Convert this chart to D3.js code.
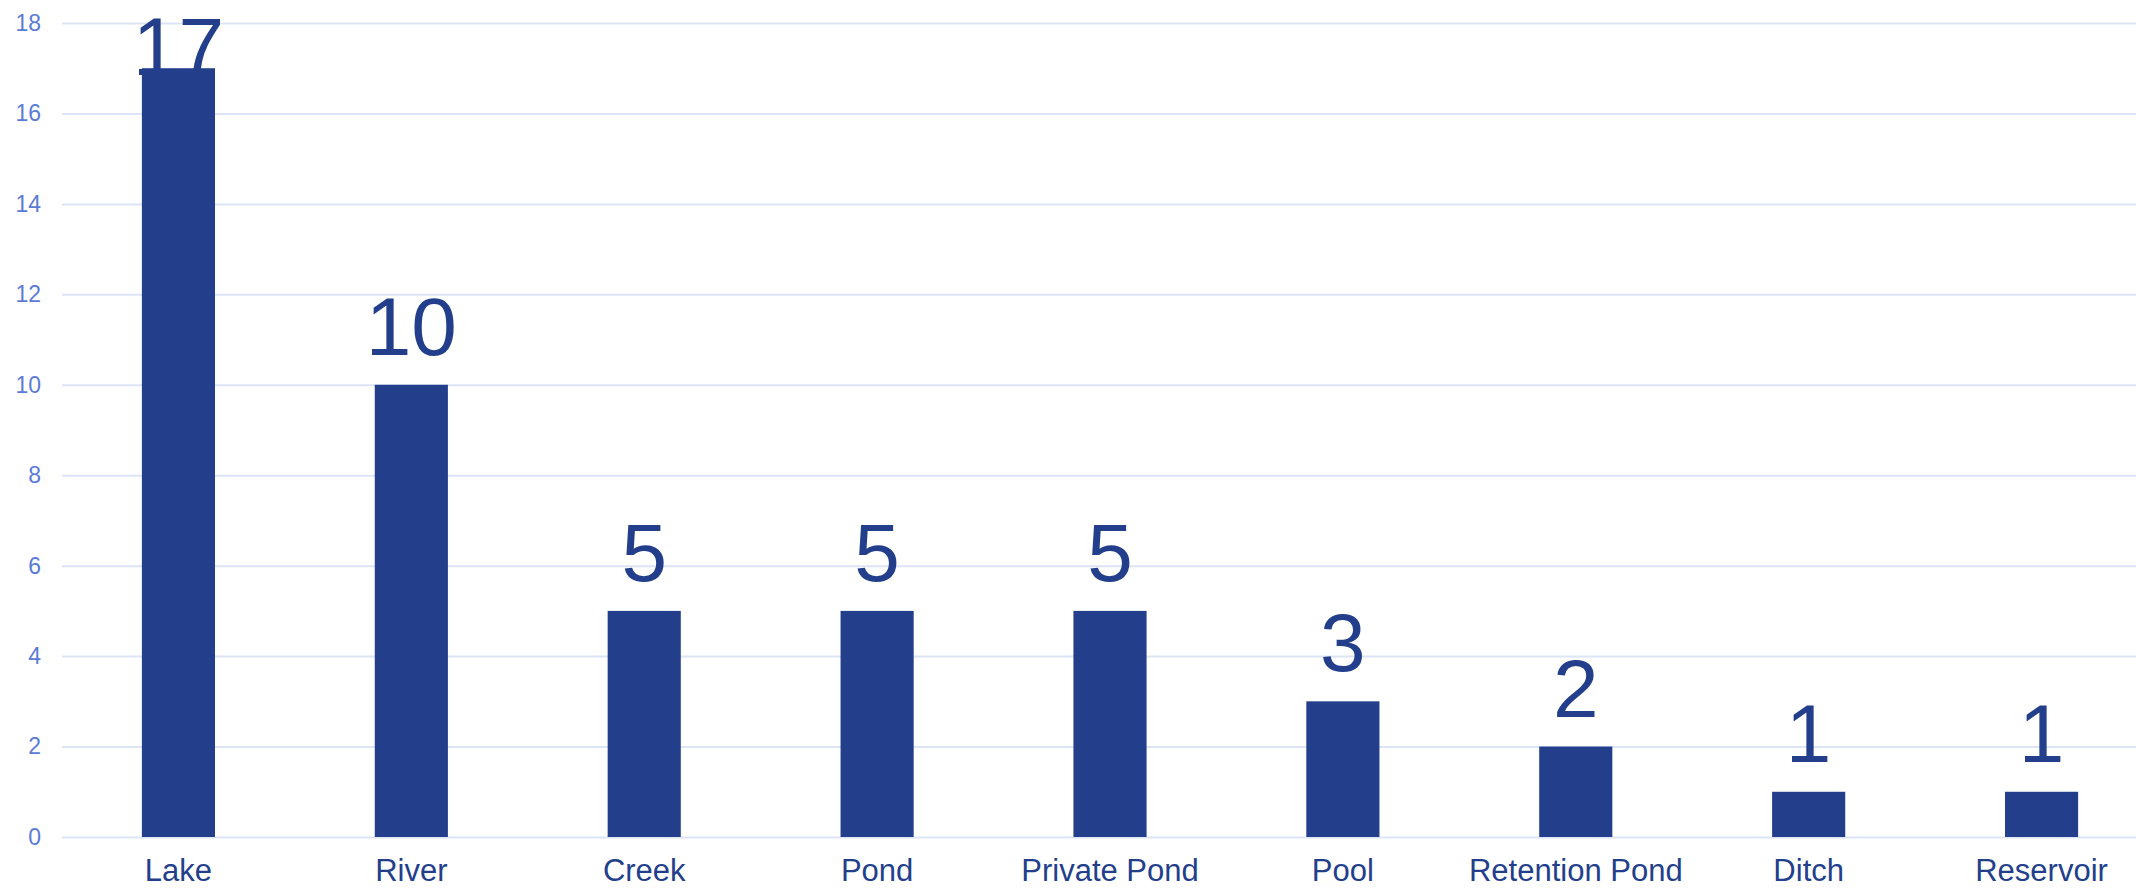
<!DOCTYPE html>
<html>
<head>
<meta charset="utf-8">
<script src="https://cdn.jsdelivr.net/npm/d3@7"></script>
<style>
  html, body { margin: 0; padding: 0; background: #ffffff; }
  svg { display: block; font-family: "Liberation Sans", Arial, sans-serif; }
</style>
</head>
<body>
<svg id="chart" width="2136" height="889"></svg>
<script>
// Water body types and their counts
const categories = ["Lake", "River", "Creek", "Pond", "Private Pond", "Pool", "Retention Pond", "Ditch", "Reservoir"];
const counts = [17, 10, 5, 5, 5, 3, 2, 1, 1];
const yTicks = [0, 2, 4, 6, 8, 10, 12, 14, 16, 18];

const W = 2136, H = 889;
const plotLeft = 62, plotRight = W;
const barColor = "#233f8c";
const gridColor = "#dce4f6";
const tickColor = "#5b7bd6";

const svg = d3.select("#chart");

const x = d3.scaleBand()
  .domain(categories)
  .range([plotLeft, 2158])
  .paddingInner(0.686)
  .paddingOuter(0.343);

const y = d3.scaleLinear()
  .domain([0, 18])
  .range([837, 23]);

// Horizontal gridlines + left tick labels
const yAxis = d3.axisLeft(y)
  .tickValues(yTicks)
  .tickSize(-(plotRight - plotLeft))
  .tickPadding(21)
  .tickFormat(d3.format("d"));

const gy = svg.append("g")
  .attr("transform", `translate(${plotLeft},0)`)
  .call(yAxis);
gy.select(".domain").remove();
gy.selectAll(".tick line").attr("stroke", gridColor).attr("stroke-width", 2);
gy.selectAll(".tick text")
  .attr("fill", tickColor)
  .style("font-size", "23px")
  .style("font-family", "'Liberation Sans', Arial, sans-serif");

// Category labels under the bars
const xAxis = d3.axisBottom(x).tickSize(0).tickPadding(0);
const gx = svg.append("g")
  .attr("transform", `translate(0,${y(0)})`)
  .call(xAxis);
gx.select(".domain").remove();
gx.selectAll(".tick text")
  .attr("fill", barColor)
  .attr("dy", null)
  .attr("y", 44)
  .style("font-size", "31px")
  .style("font-family", "'Liberation Sans', Arial, sans-serif");

// Value labels above each bar (drawn before bars so a tall bar can cover a clamped label)
const labelSize = 82;
const labelGap = 30;
const minBaseline = 75;
svg.append("g")
  .selectAll("text")
  .data(categories)
  .join("text")
  .attr("x", d => x(d) + x.bandwidth() / 2)
  .attr("y", (d, i) => Math.max(y(counts[i]) - labelGap, minBaseline))
  .attr("text-anchor", "middle")
  .attr("fill", barColor)
  .style("font-size", labelSize + "px")
  .text((d, i) => counts[i]);

// Bars
svg.append("g")
  .selectAll("rect")
  .data(categories)
  .join("rect")
  .attr("x", d => x(d))
  .attr("width", x.bandwidth())
  .attr("y", (d, i) => y(counts[i]))
  .attr("height", (d, i) => y(0) - y(counts[i]))
  .attr("fill", barColor);
</script>
</body>
</html>
